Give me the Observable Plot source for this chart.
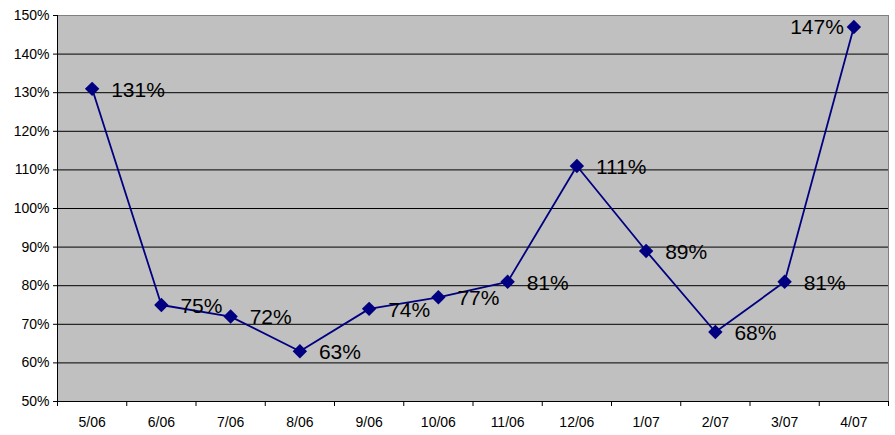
<!DOCTYPE html>
<html><head><meta charset="utf-8">
<script src="https://cdn.jsdelivr.net/npm/d3@7"></script>
<script src="https://cdn.jsdelivr.net/npm/@observablehq/plot@0.6"></script>
<style>body{margin:0;background:#fff}</style>
</head><body><div id="chart"></div>
<script>
const months = ["5/06","6/06","7/06","8/06","9/06","10/06","11/06","12/06","1/07","2/07","3/07","4/07"];
const ratios = [131, 75, 72, 63, 74, 77, 81, 111, 89, 68, 81, 147];
const yTicks = [50, 60, 70, 80, 90, 100, 110, 120, 130, 140, 150];

const data = months.map((m, i) => ({i, m, v: ratios[i]}));
const boundaries = d3.range(-0.5, months.length, 1);
const font = "'Liberation Sans', Arial, Helvetica, sans-serif";

const plot = Plot.plot({
  width: 895, height: 435,
  marginLeft: 57, marginRight: 7, marginTop: 15, marginBottom: 34,
  style: {fontFamily: font, fontSize: "14px", background: "#fff", color: "#000"},
  x: {domain: [-0.5, months.length - 0.5]},
  y: {domain: [50, 150]},
  marks: [
    Plot.frame({fill: "#C0C0C0", stroke: "none"}),
    Plot.ruleY(yTicks.filter(t => t > 50 && t < 150), {stroke: "#000", strokeWidth: 1}),
    Plot.frame({stroke: "#808080", strokeWidth: 1}),
    Plot.ruleX([-0.5], {stroke: "#000"}),
    Plot.ruleY([50], {stroke: "#000"}),
    Plot.axisY({ticks: yTicks, tickSize: 4, tickPadding: 4, tickFormat: d => d + "%", label: null, fontSize: 14}),
    Plot.axisX({ticks: boundaries, tickSize: 5, tickFormat: () => "", label: null}),
    Plot.axisX({ticks: d3.range(months.length), tickSize: 0, tickPadding: 16, tickFormat: i => months[i], label: null, fontSize: 14}),
    Plot.line(data, {x: "i", y: "v", stroke: "#000080", strokeWidth: 1.8}),
    Plot.dot(data, {x: "i", y: "v", symbol: "diamond2", r: 6.5, fill: "#000080", stroke: "none"}),
    Plot.text(data.slice(0, -1), {x: "i", y: "v", text: d => d.v + "%", textAnchor: "start", dx: 19, dy: 1, fontSize: 21, fill: "#000"}),
    Plot.text(data.slice(-1), {x: "i", y: "v", text: d => d.v + "%", textAnchor: "end", dx: -10, dy: 0, fontSize: 21, fill: "#000"})
  ]
});
document.getElementById("chart").appendChild(plot);
</script>
</body></html>
